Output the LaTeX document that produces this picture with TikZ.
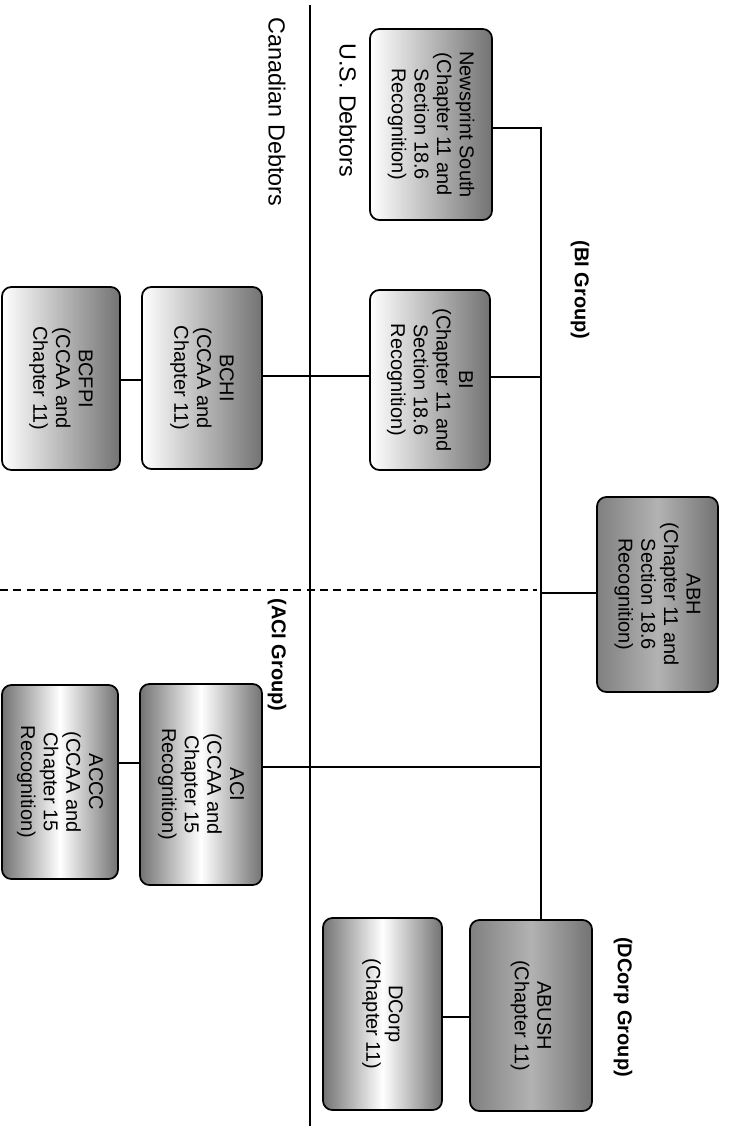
\documentclass[tikz,border=0pt]{standalone}
\usepackage{fontspec}
\setmainfont{Liberation Sans}
\usetikzlibrary{calc}
\tikzset{
  box/.style={draw=black, line width=1.3pt, rounded corners=7pt, inner sep=0pt},
  halfshade/.style={left color=white, right color=black!55},
  midshade/.style={left color=black!55, right color=black!55, middle color=white},
  darkshade/.style={left color=black!50, right color=black!55, middle color=black!30},
  txt/.style={rotate=-90, align=center, font=\fontsize{15}{17}\selectfont},
  lbl/.style={rotate=-90, font=\fontsize{17.5}{20}\selectfont},
  grp/.style={rotate=-90, font=\bfseries\fontsize{15}{17}\selectfont},
  conn/.style={line width=1.2pt},
}
\begin{document}
\begin{tikzpicture}[x=0.75pt,y=-0.75pt]
\useasboundingbox (0,0) rectangle (729,1126);

% junction coordinates
\coordinate (top) at (541,128);
\coordinate (jBI) at (541,377);
\coordinate (jABH) at (541,593);
\coordinate (jACI) at (541,767);
\coordinate (sepTop) at (310,5);
\coordinate (sepBot) at (310,1126);
\coordinate (dashL) at (0,590);
\coordinate (dashR) at (537,590);
\coordinate (yBC) at (0,376);
\coordinate (yBF) at (0,380);
\coordinate (yAC) at (0,763);
\coordinate (yDC) at (0,1017);

% boxes
\node[box, halfshade, minimum width=91.5pt, minimum height=143.25pt] (NS) at (431,124.5) {};
\node[box, halfshade, minimum width=90pt, minimum height=135pt] (BI) at (430,380) {};
\node[box, halfshade, minimum width=90pt, minimum height=136.5pt] (BCHI) at (202,378) {};
\node[box, halfshade, minimum width=88.5pt, minimum height=137.25pt] (BCFPI) at (61,378.5) {};
\node[box, darkshade, minimum width=90.75pt, minimum height=146.25pt] (ABH) at (657.5,594.5) {};
\node[box, midshade, minimum width=91.5pt, minimum height=150.75pt] (ACI) at (201,784.5) {};
\node[box, midshade, minimum width=87pt, minimum height=145.5pt] (ACCC) at (60,782) {};
\node[box, darkshade, minimum width=91.5pt, minimum height=143.25pt] (ABUSH) at (531,1015.5) {};
\node[box, midshade, minimum width=89.25pt, minimum height=144pt] (DCorp) at (382.5,1014) {};

% box texts
\node[txt] (NSt) at (NS) {Newsprint South\\(Chapter 11 and\\Section 18.6\\Recognition)};
\node[txt] (BIt) at (BI) {BI\\(Chapter 11 and\\Section 18.6\\Recognition)};
\node[txt] (BCHIt) at (BCHI) {BCHI\\(CCAA and\\Chapter 11)};
\node[txt] (BCFPIt) at (BCFPI) {BCFPI\\(CCAA and\\Chapter 11)};
\node[txt] (ABHt) at (ABH) {ABH\\(Chapter 11 and\\Section 18.6\\Recognition)};
\node[txt] (ACIt) at (ACI) {ACI\\(CCAA and\\Chapter 15\\Recognition)};
\node[txt] (ACCCt) at (ACCC) {ACCC\\(CCAA and\\Chapter 15\\Recognition)};
\node[txt] (ABUSHt) at (ABUSH) {ABUSH\\(Chapter 11)};
\node[txt] (DCorpt) at (DCorp) {DCorp\\(Chapter 11)};

% connectors
\draw[conn] (NS.east |- top) -- (top) -- (top |- ABUSH.north);
\draw[conn] (BI.east |- jBI) -- (jBI);
\draw[conn] (BCHI.east |- yBC) -- (BI.west |- yBC);
\draw[conn] (BCFPI.east |- yBF) -- (BCHI.west |- yBF);
\draw[conn] (ABH.west |- jABH) -- (jABH);
\draw[conn] (ACI.east |- jACI) -- (jACI);
\draw[conn] (ACCC.east |- yAC) -- (ACI.west |- yAC);
\draw[conn] (DCorp.east |- yDC) -- (ABUSH.west |- yDC);
\draw[conn, dash pattern=on 6pt off 4pt] (dashL) -- (dashR);
\draw[conn] (sepTop) -- (sepBot);

% labels
\node[lbl] (us) at (348,110) {U.S. Debtors};
\node[lbl] (ca) at (277,112) {Canadian Debtors};
\node[grp] (gBI) at (580,290) {(BI Group)};
\node[grp] (gACI) at (277,655) {(ACI Group)};
\node[grp] (gDC) at (623,1007) {(DCorp Group)};
\end{tikzpicture}
\end{document}
